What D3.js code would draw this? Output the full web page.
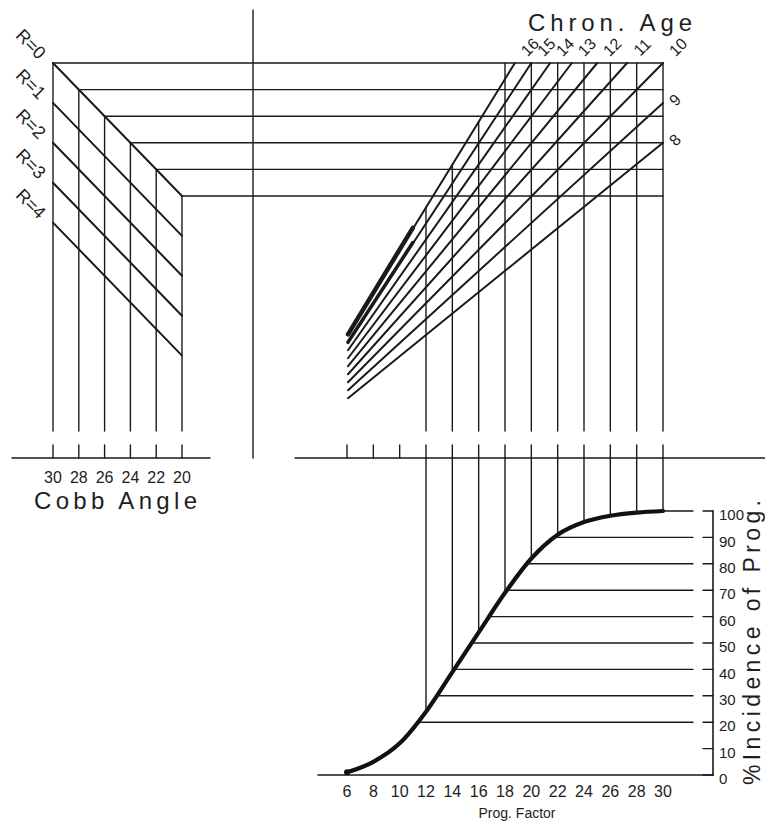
<!DOCTYPE html>
<html>
<head>
<meta charset="utf-8">
<script src="https://cdn.jsdelivr.net/npm/d3@7"></script>
<style>
  body { margin: 0; background: #fff; }
  text { fill: #1e1e1e; }
</style>
</head>
<body>
<div id="chart"></div>
<script>
var svgWidth = 765;
var svgHeight = 821;

// nomogram inputs
var cobbAngles = [30, 28, 26, 24, 22, 20];
var rValues = [0, 1, 2, 3, 4];
var rWeight = 3;              // rows are Cobb - 3R
var ages = [16, 15, 14, 13, 12, 11, 10, 9, 8];
var progTicks = [6, 8, 10, 12, 14, 16, 18, 20, 22, 24, 26, 28, 30];
var progLines = [12, 14, 16, 18, 20, 22, 24, 26, 28, 30];
var incidenceTicks = [0, 10, 20, 30, 40, 50, 60, 70, 80, 90, 100];
var incidenceLines = [20, 30, 40, 50, 60, 70, 80, 90, 100];

// incidence curve
var curvePF = [6, 8, 10, 12, 14, 16, 18, 20, 22, 24, 26, 28, 30];
var curvePct = [1, 5, 12, 24, 39, 54, 69, 82, 91, 95.8, 98.2, 99.4, 100];

var svg = d3.select("#chart")
  .append("svg")
  .attr("width", svgWidth)
  .attr("height", svgHeight);

// scales
var cobbX = d3.scaleLinear().domain([30, 20]).range([53, 182]);
var valueY = d3.scaleLinear().domain([30, 0]).range([63, 462]);
var pfX = d3.scaleLinear().domain([6, 30]).range([347, 663]);
var incY = d3.scaleLinear().domain([0, 100]).range([775, 511]);

var midAxisY = 458;
var tickTop = 445;
var gridBottom = 431;
var ink = "#1a1a1a";

function seg(g, x1, y1, x2, y2, w) {
  return g.append("line")
    .attr("x1", x1).attr("y1", y1)
    .attr("x2", x2).attr("y2", y2)
    .attr("stroke", ink)
    .attr("stroke-width", w || 1.4)
    .attr("stroke-linecap", "round");
}

var grid = svg.append("g");

// horizontal rows (R = 0) running across to the age grid
cobbAngles.forEach(function(c) {
  seg(grid, cobbX(c), valueY(c), pfX(30), valueY(c));
  seg(grid, cobbX(c), valueY(c), cobbX(c), gridBottom);
});

// R lines
rValues.forEach(function(r) {
  var c0 = cobbAngles[0], c1 = cobbAngles[cobbAngles.length - 1];
  seg(grid, cobbX(c0), valueY(c0 - rWeight * r), cobbX(c1), valueY(c1 - rWeight * r), 2);
});

// centre divider
seg(grid, 253, 10, 253, midAxisY);

// middle axis
seg(grid, 12, midAxisY, 210, midAxisY);
seg(grid, 295, midAxisY, 765, midAxisY);
cobbAngles.forEach(function(c) { seg(grid, cobbX(c), tickTop, cobbX(c), midAxisY); });
progTicks.forEach(function(p) { seg(grid, pfX(p), tickTop, pfX(p), midAxisY); });

// prog factor verticals in the age grid
var maxAge = d3.max(ages);
progLines.forEach(function(p) {
  var topV = Math.min(30, p * maxAge / 10);
  var yTop = topV > 28 ? valueY(30) : valueY(topV);
  seg(grid, pfX(p), yTop, pfX(p), gridBottom);
});

// age lines: prog factor = 10 * value / age
ages.forEach(function(a) {
  var vTop = Math.min(30, 3 * a);
  var pfTop = 10 * vTop / a;
  var vLow = pfX.domain()[0] * a / 10;
  seg(grid, pfX(6) + 1, valueY(vLow), pfX(pfTop), valueY(vTop), 2);
});
// heavy ink on the oldest lines near their lower ends
[16, 15].forEach(function(a, i) {
  var v0 = 6 * a / 10, v1 = 11 * a / 10;
  seg(grid, pfX(6) + 1, valueY(v0), pfX(11), valueY(v1), 4.5 - i);
});

// lower panel: incidence curve
var line = d3.line()
  .x(function(d, i) { return pfX(curvePF[i]); })
  .y(function(d) { return incY(d); })
  .curve(d3.curveMonotoneX);

var curve = svg.append("path")
  .attr("d", line(curvePct))
  .attr("fill", "none")
  .attr("stroke", "#111")
  .attr("stroke-width", 4.2)
  .attr("stroke-linecap", "round");

var node = curve.node();
var total = node.getTotalLength();
var samples = d3.range(0, 601).map(function(i) { return node.getPointAtLength(total * i / 600); });

function curveYAt(x) {
  for (var i = 1; i < samples.length; i++) {
    if (samples[i].x >= x) {
      var a = samples[i - 1], b = samples[i];
      var t = (x - a.x) / ((b.x - a.x) || 1);
      return a.y + t * (b.y - a.y);
    }
  }
  return samples[samples.length - 1].y;
}
function curveXAt(y) {
  for (var i = 1; i < samples.length; i++) {
    if (samples[i].y <= y) {
      var a = samples[i - 1], b = samples[i];
      var t = (y - a.y) / ((b.y - a.y) || 1);
      return a.x + t * (b.x - a.x);
    }
  }
  return samples[samples.length - 1].x;
}

var lower = svg.append("g");
progLines.forEach(function(p) {
  seg(lower, pfX(p), midAxisY, pfX(p), curveYAt(pfX(p)));
});
incidenceLines.forEach(function(v) {
  seg(lower, curveXAt(incY(v)), incY(v), 693, incY(v));
});

// lower axes
seg(lower, 318, incY(0), 713, incY(0), 1.6);
seg(lower, 713, incY(100), 713, incY(0), 1.6);
incidenceTicks.forEach(function(v) { seg(lower, 703, incY(v), 713, incY(v)); });
lower.append("circle").attr("cx", pfX(6)).attr("cy", incY(1)).attr("r", 3).attr("fill", "#111");

// text
var numFont = "'Liberation Sans', Arial, sans-serif";

svg.append("g").selectAll("text")
  .data(cobbAngles).enter().append("text")
  .attr("x", function(d) { return cobbX(d); })
  .attr("y", 483)
  .attr("text-anchor", "middle")
  .attr("font-family", numFont)
  .attr("font-size", 16)
  .text(function(d) { return d; });

svg.append("text")
  .attr("x", 34).attr("y", 509)
  .attr("font-family", numFont)
  .attr("font-size", 24)
  .attr("textLength", 163)
  .attr("lengthAdjust", "spacing")
  .text("Cobb Angle");

svg.append("text")
  .attr("x", 528).attr("y", 31)
  .attr("font-family", numFont)
  .attr("font-size", 24)
  .attr("textLength", 164)
  .attr("lengthAdjust", "spacing")
  .text("Chron. Age");

// R labels
svg.append("g").selectAll("text")
  .data(rValues).enter().append("text")
  .attr("transform", function(r) {
    return "translate(" + 31 + "," + (valueY(30 - rWeight * r) - 19) + ") rotate(45)";
  })
  .attr("text-anchor", "middle")
  .attr("dy", "0.35em")
  .attr("font-family", numFont)
  .attr("font-size", 18)
  .text(function(r) { return "R=" + r; });

// age labels
svg.append("g").selectAll("text")
  .data(ages).enter().append("text")
  .attr("transform", function(a) {
    var vTop = Math.min(30, 3 * a);
    var x = pfX(10 * vTop / a), y = valueY(vTop);
    if (a >= 10) { x += 15; y -= 16; } else { x += 12; y -= 3; }
    return "translate(" + x + "," + y + ") rotate(-45)";
  })
  .attr("text-anchor", "middle")
  .attr("dy", "0.35em")
  .attr("font-family", numFont)
  .attr("font-size", 16)
  .text(function(a) { return a; });

// prog factor labels
svg.append("g").selectAll("text")
  .data(progTicks).enter().append("text")
  .attr("x", function(d) { return pfX(d); })
  .attr("y", 797)
  .attr("text-anchor", "middle")
  .attr("font-family", numFont)
  .attr("font-size", 16)
  .text(function(d) { return d; });

svg.append("text")
  .attr("x", 517).attr("y", 818)
  .attr("text-anchor", "middle")
  .attr("font-family", "Arial, 'Liberation Sans', sans-serif")
  .attr("font-size", 14)
  .text("Prog. Factor");

// incidence labels
svg.append("g").selectAll("text")
  .data(incidenceTicks).enter().append("text")
  .attr("x", 719)
  .attr("y", function(d) { return incY(d) + 4; })
  .attr("dy", "0.35em")
  .attr("font-family", numFont)
  .attr("font-size", 15)
  .text(function(d) { return d; });

svg.append("text")
  .attr("transform", "translate(760,785) rotate(-90)")
  .attr("font-family", numFont)
  .attr("font-size", 23)
  .attr("textLength", 285)
  .attr("lengthAdjust", "spacing")
  .text("%Incidence of Prog.");
</script>
</body>
</html>
